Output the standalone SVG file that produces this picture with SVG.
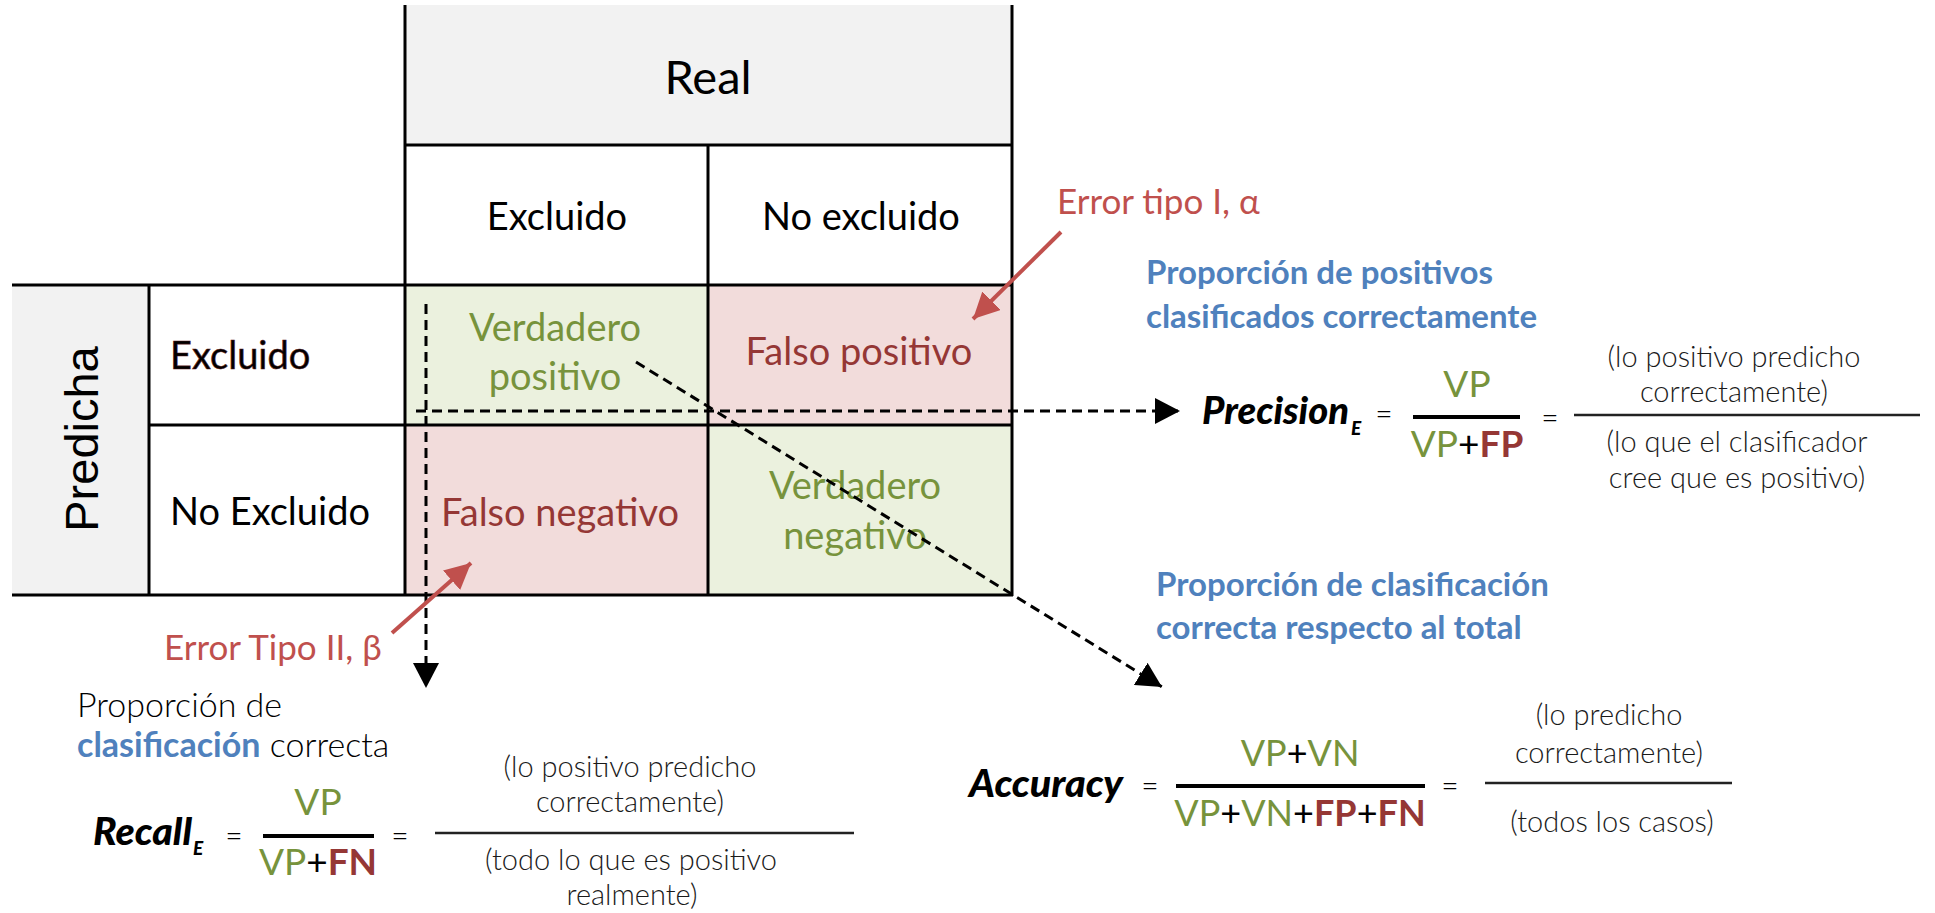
<svg xmlns="http://www.w3.org/2000/svg" width="1935" height="913" viewBox="0 0 1935 913">
<defs>
<style>
text{font-family:Lato,"Liberation Sans",sans-serif;}
.hdr{font-size:38px;fill:#000;}
.cellg{font-size:38px;fill:#77933C;text-anchor:middle;}
.cellr{font-size:38px;fill:#953735;text-anchor:middle;}
.err{font-size:35px;fill:#C0504D;}
.blue{font-size:33px;font-weight:bold;fill:#4F81BD;}
.expl{font-size:29px;font-weight:300;fill:#1a1a1a;text-anchor:middle;}
.name{font-size:38px;font-weight:900;font-style:italic;fill:#000;}
.sub{font-size:19px;font-weight:900;font-style:italic;fill:#000;}
.eq{font-size:30px;font-weight:300;fill:#000;text-anchor:middle;}
.frac{font-size:37px;text-anchor:middle;fill:#000;}
.frac2{font-size:36px;text-anchor:middle;fill:#000;}
.g{fill:#77933C;}
.r{fill:#953735;font-weight:bold;}
.tl{stroke:#000;stroke-width:3;fill:none;}
.bar{stroke:#000;stroke-width:4;}
.bar2{stroke:#222;stroke-width:2.5;}
.dash{stroke:#000;stroke-width:3;stroke-dasharray:10 6;fill:none;}
.red{stroke:#C0504D;stroke-width:4;fill:none;}
</style>
<marker id="ah" markerUnits="userSpaceOnUse" markerWidth="26" markerHeight="26" refX="25" refY="13" orient="auto">
<path d="M0,0 L25,13 L0,26 z" fill="#000"/>
</marker>
<marker id="ahr" markerUnits="userSpaceOnUse" markerWidth="28" markerHeight="26" refX="26" refY="13" orient="auto">
<path d="M0,0 L26,13 L0,26 z" fill="#C0504D"/>
</marker>
</defs>
<rect width="1935" height="913" fill="#fff"/>

<g id="table">
<rect x="405" y="5" width="607" height="140" fill="#F2F2F2"/>
<rect x="12" y="285" width="137" height="310" fill="#F2F2F2"/>
<rect x="405" y="285" width="303" height="140" fill="#EBF1DE"/>
<rect x="708" y="285" width="304" height="140" fill="#F2DCDB"/>
<rect x="405" y="425" width="303" height="170" fill="#F2DCDB"/>
<rect x="708" y="425" width="304" height="170" fill="#EBF1DE"/>
<path class="tl" d="M405,5 V596 M1012,5 V596 M405,145 H1012 M708,145 V596 M12,285 H1012 M149,425 H1012 M12,595 H1013 M149,285 V595"/>
</g>

<g id="real"><text x="708" y="94" font-size="47" text-anchor="middle">Real</text></g>
<g id="col-excluido"><text class="hdr" x="557" y="230" text-anchor="middle">Excluido</text></g>
<g id="col-noexcluido"><text class="hdr" x="861" y="230" text-anchor="middle">No excluido</text></g>
<g id="predicha"><text transform="translate(98,439) rotate(-90)" x="0" y="0" font-size="47" text-anchor="middle" style="font-family:'Liberation Sans',sans-serif">Predicha</text></g>
<g id="row-excluido"><text class="hdr" x="170" y="369" fill="#2a0808" stroke="#5a1a1a" stroke-width="0.6">Excluido</text></g>
<g id="row-noexcluido"><text class="hdr" x="170" y="525">No Excluido</text></g>

<g id="vp"><text class="cellg" x="555" y="341">Verdadero</text><text class="cellg" x="555" y="390">positivo</text></g>
<g id="fp"><text class="cellr" x="859" y="365">Falso positivo</text></g>
<g id="fn"><text class="cellr" x="560" y="526">Falso negativo</text></g>
<g id="vn"><text class="cellg" x="855" y="499">Verdadero</text><text class="cellg" x="855" y="549">negativo</text></g>

<g id="connectors">
<line class="dash" x1="426" y1="304" x2="426" y2="688" marker-end="url(#ah)"/>
<line class="dash" x1="416" y1="411" x2="1180" y2="411" marker-end="url(#ah)"/>
<line class="dash" x1="636" y1="362" x2="1162" y2="687" marker-end="url(#ah)"/>
<line class="red" x1="1061" y1="232" x2="973" y2="319" marker-end="url(#ahr)"/>
<line class="red" x1="392" y1="633" x2="471" y2="563" marker-end="url(#ahr)"/>
</g>

<g id="error1"><text class="err" x="1057" y="214">Error tipo I, α</text></g>
<g id="error2"><text class="err" x="164" y="660">Error Tipo II, β</text></g>

<g id="precision">
<text class="blue" x="1146" y="284">Proporción de positivos</text>
<text class="blue" x="1146" y="328">clasificados correctamente</text>
<text class="name" x="1202" y="424" textLength="147" lengthAdjust="spacingAndGlyphs">Precision</text>
<text class="sub" x="1351" y="435">E</text>
<text class="eq" x="1384" y="424">=</text>
<line class="bar" x1="1413" y1="417" x2="1520" y2="417"/>
<text class="frac" x="1467" y="397"><tspan class="g">VP</tspan></text>
<text class="frac" x="1467" y="457"><tspan class="g">VP</tspan>+<tspan class="r">FP</tspan></text>
<text class="eq" x="1550" y="428">=</text>
<line class="bar2" x1="1574" y1="415" x2="1920" y2="415"/>
<text class="expl" x="1734" y="367">(lo positivo predicho</text>
<text class="expl" x="1734" y="402">correctamente)</text>
<text class="expl" x="1737" y="452">(lo que el clasificador</text>
<text class="expl" x="1737" y="488">cree que es positivo)</text>
</g>

<g id="recall">
<text x="77" y="717" font-size="34" font-weight="300" fill="#000">Proporción de</text>
<text x="77" y="757" font-size="34" font-weight="300" fill="#000"><tspan fill="#4F81BD" font-weight="bold">clasificación</tspan> correcta</text>
<text class="name" x="93" y="845" textLength="99" lengthAdjust="spacingAndGlyphs">Recall</text>
<text class="sub" x="193" y="855">E</text>
<text class="eq" x="234" y="846">=</text>
<line class="bar" x1="263" y1="836" x2="374" y2="836"/>
<text class="frac" x="318" y="815"><tspan class="g">VP</tspan></text>
<text class="frac" x="318" y="875"><tspan class="g">VP</tspan>+<tspan class="r">FN</tspan></text>
<text class="eq" x="400" y="846">=</text>
<line class="bar2" x1="435" y1="833" x2="854" y2="833"/>
<text class="expl" x="630" y="777">(lo positivo predicho</text>
<text class="expl" x="630" y="812">correctamente)</text>
<text class="expl" x="631" y="870">(todo lo que es positivo</text>
<text class="expl" x="632" y="905">realmente)</text>
</g>

<g id="accuracy">
<text class="blue" x="1156" y="596">Proporción de clasificación</text>
<text class="blue" x="1156" y="639">correcta respecto al total</text>
<text class="name" x="969" y="797" textLength="154" lengthAdjust="spacingAndGlyphs">Accuracy</text>
<text class="eq" x="1150" y="796">=</text>
<line class="bar" x1="1176" y1="786" x2="1425" y2="786"/>
<text class="frac2" x="1300" y="766"><tspan class="g">VP</tspan>+<tspan class="g">VN</tspan></text>
<text class="frac2" x="1300" y="826"><tspan class="g">VP</tspan>+<tspan class="g">VN</tspan>+<tspan class="r">FP</tspan>+<tspan class="r">FN</tspan></text>
<text class="eq" x="1450" y="796">=</text>
<line class="bar2" x1="1485" y1="783" x2="1732" y2="783"/>
<text class="expl" x="1609" y="725">(lo predicho</text>
<text class="expl" x="1609" y="763">correctamente)</text>
<text class="expl" x="1612" y="832">(todos los casos)</text>
</g>
</svg>
